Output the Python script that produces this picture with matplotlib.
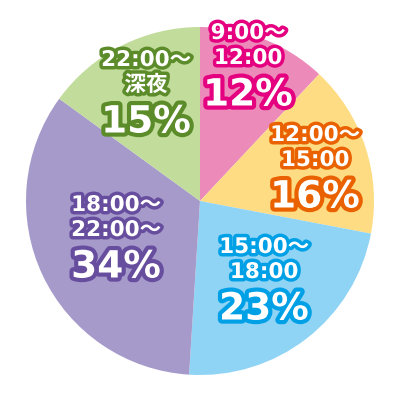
import matplotlib
matplotlib.use('Agg')
import matplotlib.pyplot as plt
import matplotlib.patheffects as pe

# data
periods = ['9:00～12:00', '12:00～15:00', '15:00～18:00', '18:00～22:00～', '22:00～深夜']
line1 = ['9:00～', '12:00～', '15:00～', '18:00～', '22:00～']
line2 = ['12:00', '15:00', '18:00', '22:00～', '深夜']
shares = [12, 16, 23, 34, 15]

fill_colors = ['#ec8bb9', '#fddc84', '#8fd3f5', '#a69acb', '#c2dc9c']
edge_colors = ['#e4007f', '#ea6100', '#00a0e6', '#674d9e', '#5c8c2a']

# label anchor (centre of second line) in pixels of the 400px image
label_px = [(248, 58), (315, 160), (264, 272), (116, 230), (146, 85)]

cx, cy, R = 200, 201, 174

fig = plt.figure(figsize=(4, 4), dpi=100)
ax = fig.add_axes([0, 0, 1, 1])
ax.pie(shares, colors=fill_colors, startangle=90, counterclock=False,
       radius=1, center=(0, 0), wedgeprops=dict(linewidth=0))
ax.set_xlim(-cx / R, (400 - cx) / R)
ax.set_ylim(-(400 - cy) / R, cy / R)
ax.set_aspect('equal')
ax.axis('off')

fam = ['DejaVu Sans', 'Noto Sans CJK JP']
for i in range(len(shares)):
    px, py = label_px[i]
    xy = ((px - cx) / R, (cy - py) / R)
    col = edge_colors[i]
    small = [pe.withStroke(linewidth=5, foreground=col)]
    big = [pe.withStroke(linewidth=6, foreground=col)]
    ax.annotate(line1[i], xy, xytext=(0, 18), textcoords='offset points',
                ha='center', va='center', fontsize=15.5, fontweight='bold',
                family=fam, color='white', path_effects=small)
    ax.annotate(line2[i], xy, xytext=(0, 0), textcoords='offset points',
                ha='center', va='center', fontsize=15.5, fontweight='bold',
                family=fam, color='white', path_effects=small)
    ax.annotate('%d%%' % shares[i], xy, xytext=(0, -27), textcoords='offset points',
                ha='center', va='center', fontsize=27, fontweight='bold',
                family=fam, color='white', path_effects=big)

fig.savefig('out.png', dpi=100, facecolor='white')
